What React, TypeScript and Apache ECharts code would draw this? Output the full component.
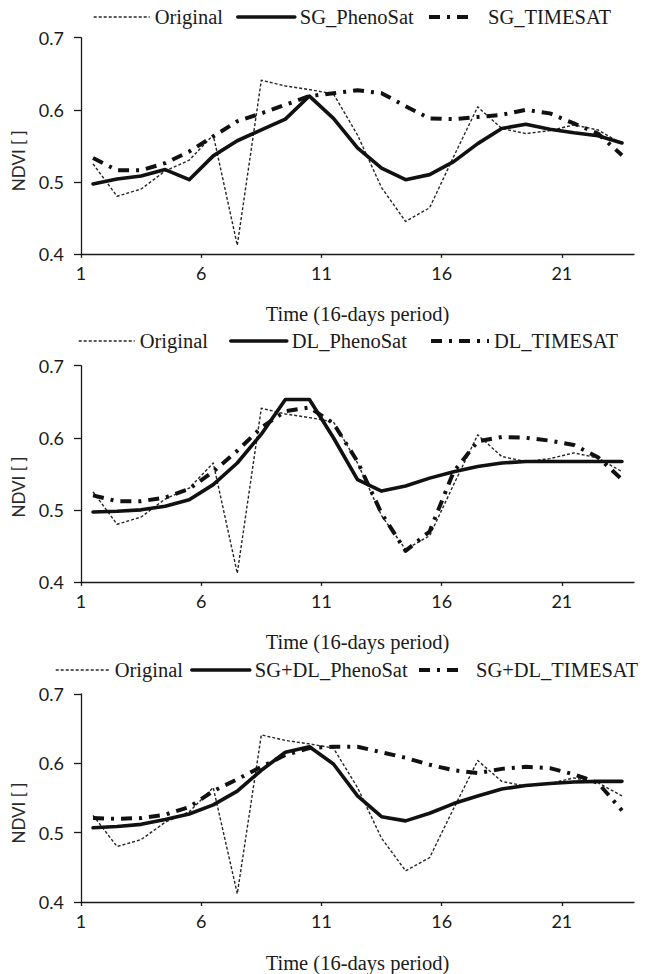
import React, { useEffect, useRef } from "react";
import * as echarts from "echarts";

// 16-day periods (x positions of the composites)
const periods = [1.5, 2.5, 3.5, 4.5, 5.5, 6.5, 7.5, 8.5, 9.5, 10.5, 11.5, 12.5, 13.5, 14.5, 15.5, 16.5, 17.5, 18.5, 19.5, 20.5, 21.5, 22.5, 23.5];
const xTickValues = [1, 6, 11, 16, 21];

const original = [0.525, 0.48, 0.49, 0.515, 0.53, 0.565, 0.412, 0.641, 0.633, 0.628, 0.622, 0.565, 0.492, 0.445, 0.464, 0.535, 0.604, 0.574, 0.567, 0.571, 0.579, 0.572, 0.553];

const sgPhenoSat = [0.497, 0.504, 0.508, 0.517, 0.503, 0.536, 0.557, 0.572, 0.587, 0.619, 0.588, 0.547, 0.519, 0.503, 0.51, 0.528, 0.553, 0.574, 0.58, 0.573, 0.568, 0.564, 0.554];
const sgTimesat = [0.533, 0.516, 0.516, 0.526, 0.542, 0.563, 0.584, 0.595, 0.607, 0.619, 0.623, 0.627, 0.623, 0.605, 0.588, 0.587, 0.59, 0.593, 0.6, 0.595, 0.581, 0.567, 0.537];

const dlPhenoSat = [0.497, 0.498, 0.5, 0.505, 0.514, 0.535, 0.565, 0.605, 0.653, 0.653, 0.6, 0.542, 0.526, 0.533, 0.544, 0.553, 0.56, 0.565, 0.567, 0.567, 0.567, 0.567, 0.567];
const dlTimesat = [0.52, 0.512, 0.512, 0.517, 0.529, 0.553, 0.582, 0.614, 0.637, 0.642, 0.62, 0.567, 0.495, 0.443, 0.47, 0.553, 0.595, 0.601, 0.6, 0.596, 0.59, 0.573, 0.542];

const sgdlPhenoSat = [0.507, 0.509, 0.512, 0.519, 0.527, 0.54, 0.56, 0.59, 0.616, 0.624, 0.599, 0.553, 0.523, 0.517, 0.528, 0.542, 0.553, 0.563, 0.568, 0.571, 0.573, 0.574, 0.574];
const sgdlTimesat = [0.521, 0.52, 0.521, 0.526, 0.537, 0.56, 0.577, 0.595, 0.612, 0.622, 0.624, 0.624, 0.616, 0.608, 0.598, 0.59, 0.586, 0.592, 0.595, 0.593, 0.584, 0.572, 0.532];

const panelNames = [
  ["Original", "SG_PhenoSat", "SG_TIMESAT"],
  ["Original", "DL_PhenoSat", "DL_TIMESAT"],
  ["Original", "SG+DL_PhenoSat", "SG+DL_TIMESAT"],
];
const panelSeries = [
  [original, sgPhenoSat, sgTimesat],
  [original, dlPhenoSat, dlTimesat],
  [original, sgdlPhenoSat, sgdlTimesat],
];

const xAxisName = "Time (16-days period)";
const yAxisName = "NDVI [ ]";

const SERIF = "'Liberation Serif', 'Times New Roman', serif";
const SANS = "Lato, 'Open Sans', sans-serif";
const NARROW = "'Liberation Sans Narrow', 'Arial Narrow', Lato, sans-serif";
const INK = "#1a1a1a";

const gridTops = [37.7, 365.7, 694];
const gridHeight = 216.2;
const legendTops = [6.5, 330.5, 659.5];
const yNameCenters = [160.7, 487, 813];

// legend placements [left, itemWidth, text left padding]
const legendLayout = [
  [[93, 56, 0], [236, 57, 0], [427, 45, 9]],
  [[78, 56, 0], [229, 56, 0], [429, 58, 0]],
  [[55, 54, 0], [190, 58, 0], [417, 41, 11]],
];

const lineStyles = [
  { color: "#262626", width: 1.4, type: [3, 2] as number[], cap: "butt" },
  { color: "#111", width: 3.6, type: "solid", cap: "round" },
  { color: "#111", width: 4, type: [11, 7, 3, 7] as number[], cap: "butt" },
];

export default function App() {
  const ref = useRef<HTMLDivElement>(null);

  useEffect(() => {
    if (!ref.current) return;
    const chart = echarts.init(ref.current, null, { renderer: "svg" });

    const grid = gridTops.map((top) => ({
      left: 81,
      top,
      width: 553,
      height: gridHeight,
      containLabel: false,
    }));

    const xAxis = gridTops.map((_, i) => ({
      type: "value",
      gridIndex: i,
      min: 1,
      max: 24,
      name: xAxisName,
      nameLocation: "middle",
      nameGap: 50,
      nameTextStyle: { fontFamily: SERIF, fontSize: 20.5, color: INK },
      axisLine: { show: true, lineStyle: { color: INK, width: 1.3 } },
      axisTick: { show: true, length: 4, inside: false, customValues: xTickValues, lineStyle: { color: INK, width: 1.3 } },
      axisLabel: { customValues: xTickValues, margin: 10, fontFamily: SANS, fontSize: 18, color: INK },
      splitLine: { show: false },
    }));

    const yAxis = gridTops.map((_, i) => ({
      type: "value",
      gridIndex: i,
      min: 0.4,
      max: 0.7,
      interval: 0.1,
      axisLine: { show: true, lineStyle: { color: INK, width: 1.3 } },
      axisTick: { show: true, length: 7, lineStyle: { color: INK, width: 1.3 } },
      axisLabel: {
        margin: 17,
        fontFamily: SANS,
        fontSize: 18,
        color: INK,
        formatter: (v: number) => v.toFixed(1),
      },
      splitLine: { show: false },
    }));

    const series: any[] = [];
    const legend: any[] = [];
    panelSeries.forEach((group, p) => {
      group.forEach((vals, k) => {
        const ls = lineStyles[k];
        series.push({
          type: "line",
          name: panelNames[p][k],
          xAxisIndex: p,
          yAxisIndex: p,
          data: periods.map((x, j) => [x, vals[j]]),
          symbol: "none",
          smooth: false,
          z: k === 0 ? 2 : 3,
          lineStyle: { color: ls.color, width: ls.width, type: ls.type, cap: ls.cap, join: "round" },
          itemStyle: { color: ls.color },
        });
        const [left, w, pad] = legendLayout[p][k];
        legend.push({
          data: [panelNames[p][k]],
          left,
          top: legendTops[p],
          padding: 0,
          itemWidth: w,
          itemHeight: 14,
          selectedMode: false,
          lineStyle: { width: ls.width, type: ls.type, color: ls.color, cap: ls.cap },
          itemStyle: { color: ls.color, opacity: 0 },
          textStyle: {
            fontFamily: SERIF,
            fontSize: 20.5,
            color: INK,
            padding: pad ? [0, 0, 0, pad] : 0,
          },
        });
      });
    });

    const graphic = yNameCenters.map((cy) => ({
      type: "text",
      x: 18.5,
      y: cy,
      rotation: Math.PI / 2,
      style: {
        text: yAxisName,
        fontFamily: NARROW,
        fontSize: 17,
        fill: "#2a2a2a",
        align: "center",
        verticalAlign: "middle",
      },
    }));

    chart.setOption({
      animation: false,
      backgroundColor: "#fff",
      grid,
      xAxis,
      yAxis,
      legend,
      series,
      graphic,
    });

    return () => chart.dispose();
  }, []);

  return (
    <div
      ref={ref}
      style={{ position: "fixed", left: 0, top: 0, width: 652, height: 974, background: "#fff" }}
    />
  );
}
